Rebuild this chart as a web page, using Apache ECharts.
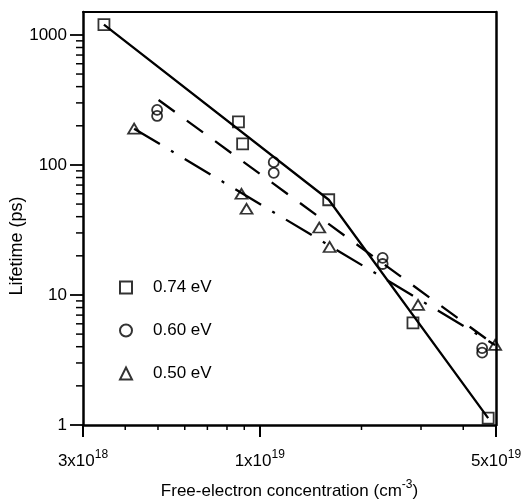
<!DOCTYPE html>
<html>
<head>
<meta charset="utf-8">
<script src="https://cdn.jsdelivr.net/npm/echarts@6/dist/echarts.min.js"></script>
<style>
html,body{margin:0;padding:0;background:#fff;}
#chart{width:525px;height:500px;}
</style>
</head>
<body>
<div id="chart"></div>
<script>
// ---- data ----
const sq074X = [3.46e18, 8.65e18, 8.9e18, 1.6e19, 2.84e19, 4.74e19];
const sq074Y = [1200, 214, 145, 54, 6.1, 1.13];
const ci060X = [4.97e18, 4.97e18, 1.1e19, 1.1e19, 2.31e19, 2.31e19, 4.55e19, 4.55e19];
const ci060Y = [265, 238, 105, 87, 19.3, 17.3, 3.9, 3.6];
const tr050X = [4.25e18, 8.83e18, 9.14e18, 1.5e19, 1.61e19, 2.94e19, 4.97e19];
const tr050Y = [190, 60, 46, 33, 23.4, 8.4, 4.13];

const fit074X = [3.46e18, 1.6e19, 4.74e19];
const fit074Y = [1200, 54, 1.13];
const fit060X = [5.02e18, 4.97e19];
const fit060Y = [316, 4.1];
const fit050X = [4.25e18, 4.97e19];
const fit050Y = [190, 4.13];

const seriesNames = ['0.74 eV', '0.60 eV', '0.50 eV'];

const xMajorTicks = [3e18, 1e19, 5e19];
const xTickLabels = ['3x10{sup|18}', '1x10{sup|19}', '5x10{sup|19}'];
const xMinorTicks = [4e18, 5e18, 6e18, 7e18, 8e18, 9e18, 2e19, 3e19, 4e19];
const yMajorTicks = [1, 10, 100, 1000];
const yTickLabels = ['1', '10', '100', '1000'];
const yMinorTicks = [2, 3, 4, 5, 6, 7, 8, 9, 20, 30, 40, 50, 60, 70, 80, 90, 200, 300, 400, 500, 600, 700, 800, 900];

const xMin = 3e18, xMax = 5e19, yMin = 1, yMax = 1500;

// ---- helpers ----
const zip = (xs, ys) => xs.map((x, i) => [x, ys[i]]);
function nearestLabel(v, ticks, labels) {
  let best = 0, bd = Infinity;
  ticks.forEach((t, i) => {
    const d = Math.abs(Math.log10(v) - Math.log10(t));
    if (d < bd) { bd = d; best = i; }
  });
  return bd < 0.01 ? labels[best] : '';
}
// keep custom tick values strictly inside the axis extent (float safety)
const inside = (vals, lo, hi) => vals.map(v => Math.min(Math.max(v, lo * (1 + 1e-9)), hi * (1 - 1e-9)));

const FONT = 'Liberation Sans, Arial, Helvetica, sans-serif';

const chart = echarts.init(document.getElementById('chart'), null, { renderer: 'canvas' });

const markerStyle = { color: 'rgba(0,0,0,0)', borderColor: '#000', borderWidth: 1.8 };
const supStyle = { fontSize: 12, lineHeight: 12, verticalAlign: 'top', fontFamily: FONT, color: '#000' };

function tickSeries(name, values, dim, len) {
  return {
    name, type: 'custom', xAxisIndex: 0, yAxisIndex: 0, silent: true, clip: false, z: 5,
    data: values.map(v => dim === 'x' ? [v, yMin] : [xMin, v]),
    renderItem: (params, api) => {
      const p = api.coord([api.value(0), api.value(1)]);
      const shape = dim === 'x'
        ? { x1: p[0], y1: p[1], x2: p[0], y2: p[1] + len }
        : { x1: p[0], y1: p[1], x2: p[0] - len, y2: p[1] };
      return { type: 'line', shape, style: { stroke: '#000', lineWidth: 1.5 } };
    }
  };
}

const option = {
  animation: false,
  backgroundColor: '#fff',
  textStyle: { fontFamily: FONT, color: '#000' },
  grid: [{ left: 83, right: 29, top: 12, bottom: 75, outerBoundsMode: 'none', containLabel: false }],
  xAxis: [
    {
      type: 'log', logBase: 10, min: xMin, max: xMax, position: 'bottom',
      axisLine: { show: true, lineStyle: { color: '#000', width: 2.5 } },
      axisTick: { show: true, inside: false, length: 12, customValues: inside(xMajorTicks, xMin, xMax), lineStyle: { color: '#000', width: 2 } },
      axisLabel: {
        show: true, customValues: inside(xMajorTicks, xMin, xMax), margin: 24,
        fontSize: 17, color: '#000', fontFamily: FONT, lineHeight: 24,
        formatter: v => nearestLabel(v, xMajorTicks, xTickLabels),
        rich: { sup: supStyle }
      },
      splitLine: { show: false }, minorTick: { show: false },
      name: 'Free-electron concentration (cm{sup|-3})',
      nameLocation: 'middle', nameGap: 54,
      nameTextStyle: { fontSize: 17, color: '#000', fontFamily: FONT, lineHeight: 24, rich: { sup: supStyle } }
    },
    {
      type: 'log', logBase: 10, min: xMin, max: xMax, position: 'top',
      axisLine: { show: true, lineStyle: { color: '#000', width: 2 } },
      axisTick: { show: false }, axisLabel: { show: false }, splitLine: { show: false }
    }
  ],
  yAxis: [
    {
      type: 'log', logBase: 10, min: yMin, max: yMax, position: 'left',
      axisLine: { show: true, lineStyle: { color: '#000', width: 2.5 } },
      axisTick: { show: true, inside: false, length: 13, customValues: inside(yMajorTicks, yMin, yMax), lineStyle: { color: '#000', width: 1.8 } },
      axisLabel: {
        show: true, customValues: inside(yMajorTicks, yMin, yMax), margin: 16,
        fontSize: 17, color: '#000', fontFamily: FONT,
        formatter: v => nearestLabel(v, yMajorTicks, yTickLabels)
      },
      splitLine: { show: false }, minorTick: { show: false }
    },
    {
      type: 'log', logBase: 10, min: yMin, max: yMax, position: 'right',
      axisLine: { show: true, lineStyle: { color: '#000', width: 2.5 } },
      axisTick: { show: false }, axisLabel: { show: false }, splitLine: { show: false }
    }
  ],
  legend: {
    data: seriesNames.map((n, i) => ({ name: n, icon: ['rect', 'circle', 'triangle'][i] })),
    orient: 'vertical', left: 114, top: 274,
    itemWidth: 12, itemHeight: 12, itemGap: 26,
    textStyle: { fontSize: 17, color: '#000', fontFamily: FONT, padding: [0, 0, 0, 16] },
    selectedMode: false
  },
  graphic: [
    {
      type: 'text', x: 17, y: 246, rotation: Math.PI / 2,
      style: { text: 'Lifetime (ps)', fontSize: 18, fontFamily: FONT, fill: '#000', align: 'center', verticalAlign: 'middle' }
    }
  ],
  series: [
    { name: 'fit074', type: 'line', data: zip(fit074X, fit074Y), symbol: 'none', silent: true,
      lineStyle: { color: '#000', width: 2.3, type: 'solid' }, z: 2 },
    { name: 'fit060', type: 'line', data: zip(fit060X, fit060Y), symbol: 'none', silent: true,
      lineStyle: { color: '#000', width: 2.3, type: [20, 15] }, z: 2 },
    { name: 'fit050', type: 'line', data: zip(fit050X, fit050Y), symbol: 'none', silent: true,
      lineStyle: { color: '#000', width: 2.3, type: [30, 13, 3, 13] }, z: 2 },
    { name: seriesNames[0], type: 'scatter', data: zip(sq074X, sq074Y),
      symbol: 'rect', symbolSize: 11, itemStyle: markerStyle, z: 3 },
    { name: seriesNames[1], type: 'scatter', data: zip(ci060X, ci060Y),
      symbol: 'circle', symbolSize: 10, itemStyle: markerStyle, z: 3 },
    { name: seriesNames[2], type: 'scatter', data: zip(tr050X, tr050Y),
      symbol: 'triangle', symbolSize: [12, 10], itemStyle: markerStyle, z: 3 },
    tickSeries('xMinorTicks', xMinorTicks, 'x', 5),
    tickSeries('yMinorTicks', yMinorTicks, 'y', 7)
  ]
};

chart.setOption(option);
</script>
</body>
</html>
